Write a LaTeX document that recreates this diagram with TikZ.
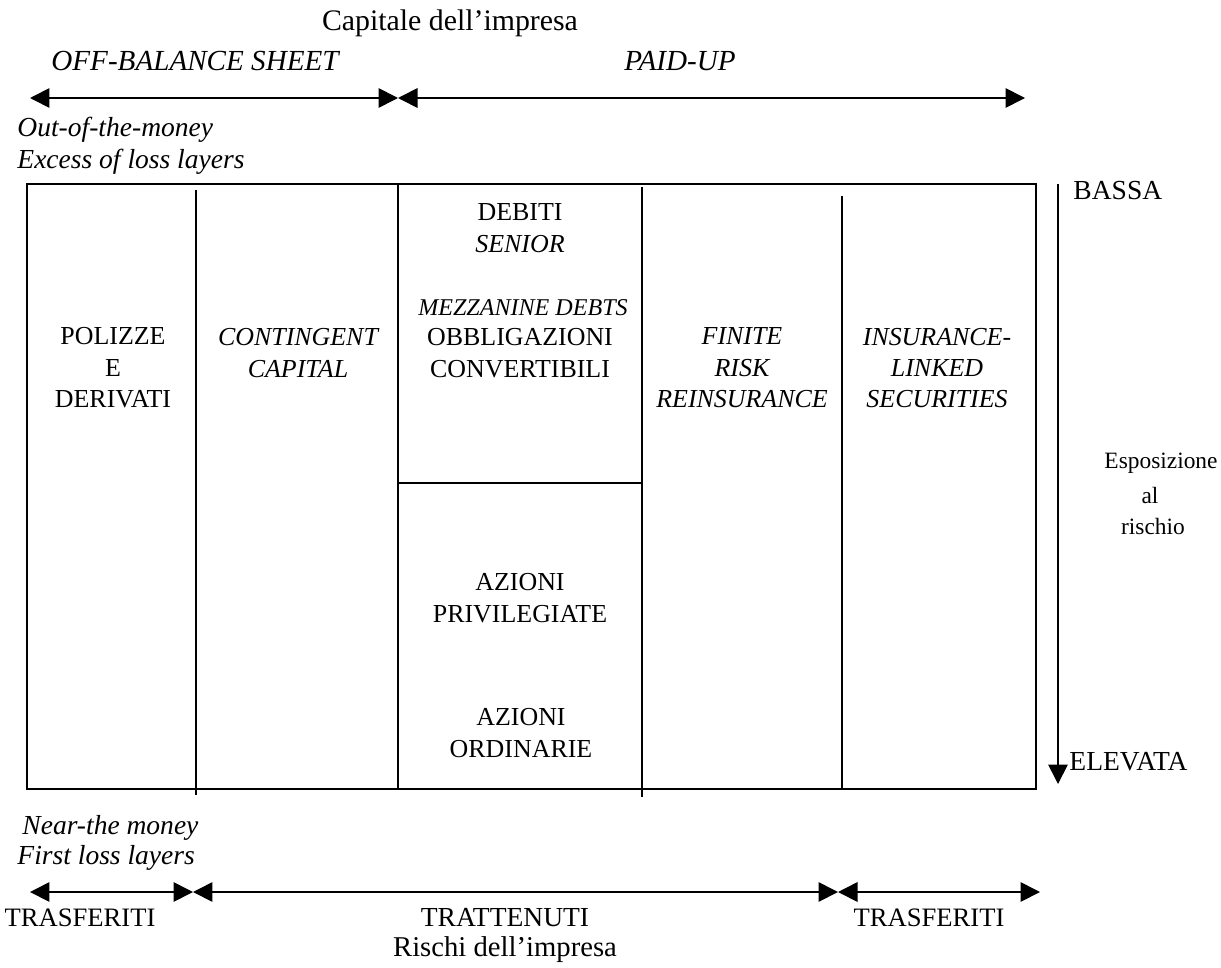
\documentclass[tikz,border=0pt]{standalone}
\usepackage{fontspec}
\setmainfont{Liberation Serif}
\usetikzlibrary{arrows.meta}

\begin{document}
\begin{tikzpicture}[x=0.436pt,y=-0.436pt,
  txt/.style={inner sep=0pt, align=center, font=\fontsize{12}{13.7}\selectfont},
  itx/.style={inner sep=0pt, align=center, font=\fontsize{12}{13.7}\selectfont\itshape},
  cell/.style={inner sep=0pt, align=center, font=\fontsize{11.3}{13.7}\selectfont},
  icell/.style={inner sep=0pt, align=center, font=\fontsize{11.3}{13.7}\selectfont\itshape},
  small/.style={inner sep=0pt, align=center, font=\fontsize{10.2}{12}\selectfont},
  big/.style={inner sep=0pt, align=center, font=\fontsize{13}{14}\selectfont},
  ibig/.style={inner sep=0pt, align=center, font=\fontsize{12.7}{14}\selectfont\itshape},
  frame/.style={line width=0.9pt},
  divider/.style={line width=0.75pt},
  span/.style={line width=0.75pt, {Triangle[length=8.5pt,width=8.5pt]}-{Triangle[length=8.5pt,width=8.5pt]}},
  axis/.style={line width=0.75pt, -{Triangle[length=8.5pt,width=8.5pt]}}
]
\useasboundingbox (0,0) rectangle (1221,967);

% --- capital of the firm: off-balance sheet vs paid-up ---
\node[big] (capitale) at (450,23) {Capitale dell’impresa};
\node[ibig] (offbal) at (195,61) {OFF-BALANCE SHEET};
\node[ibig] (paidup) at (680,61) {PAID-UP};
\coordinate (topL) at (30,98);
\coordinate (topM) at (398,98);
\coordinate (topR) at (1025,98);
\draw[span] (topL) -- (topM);
\draw[span] (topM) -- (topR);
\node[itx, anchor=west] (outmoney) at (17,130) {Out-of-the-money};
\node[itx, anchor=west] (excess) at (17,162) {Excess of loss layers};

% --- main table ---
\coordinate (boxNW) at (27,184);
\coordinate (boxSE) at (1036,789);
\draw[frame] (boxNW) rectangle (boxSE);
\draw[divider] (196,190) -- (196,795);
\draw[divider] (398,184) -- (398,789);
\draw[divider] (642,187) -- (642,797);
\draw[divider] (842,196) -- (842,789);
\draw[divider] (398,483) -- (642,483);

\node[cell] (polizze) at (113,368) {POLIZZE\\E\\DERIVATI};
\node[icell] (contingent) at (298,353) {CONTINGENT\\CAPITAL};
\node[cell] (debiti) at (520,228) {DEBITI\\\textit{SENIOR}};
\node[icell, font=\fontsize{10.5}{13}\selectfont\itshape] (mezzanine) at (523,308) {MEZZANINE DEBTS};
\node[cell] (obblig) at (520,353) {OBBLIGAZIONI\\CONVERTIBILI};
\node[cell] (privil) at (520,598) {AZIONI\\PRIVILEGIATE};
\node[cell] (ordin) at (521,733) {AZIONI\\ORDINARIE};
\node[icell] (finite) at (742,368) {FINITE\\RISK\\REINSURANCE};
\node[icell] (ils) at (937,368) {INSURANCE-\\LINKED\\SECURITIES};

% --- risk exposure axis ---
\coordinate (axTop) at (1058,184);
\coordinate (axBot) at (1058,784);
\draw[axis] (axTop) -- (axBot);
\node[txt, anchor=west] (bassa) at (1073,191) {BASSA};
\node[txt, anchor=west] (elevata) at (1069,762) {ELEVATA};
\node[small] (espo) at (1161,463) {Esposizione};
\node[small] (al) at (1150,495) {al};
\node[small] (rischio) at (1153,526) {rischio};

% --- risks of the firm: transferred vs retained ---
\node[itx, anchor=west] (nearmoney) at (22,828) {Near-the money};
\node[itx, anchor=west] (firstloss) at (17,858) {First loss layers};
\coordinate (botL) at (30,892);
\coordinate (botM1) at (193,892);
\coordinate (botM2) at (838,892);
\coordinate (botR) at (1040,892);
\draw[span] (botL) -- (botM1);
\draw[span] (botM1) -- (botM2);
\draw[span] (botM2) -- (botR);
\node[txt, font=\fontsize{11.6}{13}\selectfont] (trasf1) at (80,918) {TRASFERITI};
\node[txt] (tratt) at (505,918) {TRATTENUTI};
\node[big, font=\fontsize{12.5}{14}\selectfont] (rischi) at (505,950) {Rischi dell’impresa};
\node[txt, font=\fontsize{11.6}{13}\selectfont] (trasf2) at (929,918) {TRASFERITI};
\end{tikzpicture}
\end{document}
